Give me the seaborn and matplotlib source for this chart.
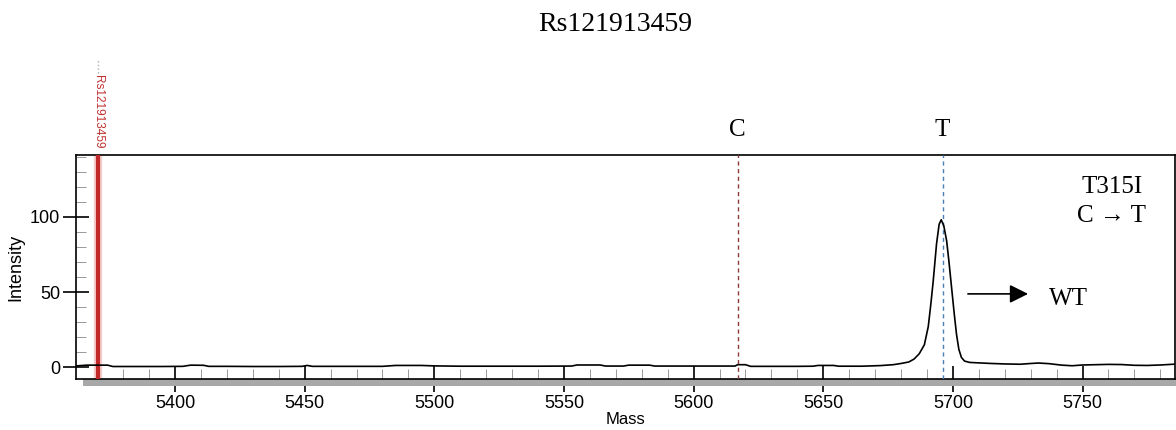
import numpy as np
import pandas as pd
import matplotlib
matplotlib.use("Agg")
import matplotlib.pyplot as plt
import matplotlib.transforms as mtransforms
from matplotlib.patches import Rectangle
from matplotlib.ticker import MultipleLocator
import seaborn as sns

# spectrum (mass, intensity)
mass = [5362, 5366, 5370, 5374, 5376, 5385, 5395, 5403, 5406, 5411, 5413, 5420, 5430,
        5440, 5449, 5451, 5453, 5460, 5470, 5480, 5485, 5495, 5500, 5510, 5520, 5530,
        5540, 5553, 5555, 5564, 5566, 5573, 5575, 5583, 5585, 5600, 5610, 5616, 5617,
        5620, 5622, 5630, 5640, 5646, 5648, 5654, 5656, 5665, 5672, 5677, 5680, 5683,
        5685, 5687, 5689, 5690.5, 5691.5, 5692.4, 5693.7, 5694.7, 5695.5, 5696.5,
        5697.6, 5698.5, 5699.5, 5700.5, 5701.4, 5702.3, 5703.3, 5704.5, 5706.5, 5710,
        5715, 5720, 5726, 5730, 5733, 5737, 5742, 5746, 5750, 5755, 5760, 5765, 5770,
        5775, 5780, 5786]
intensity = [1.0, 1.5, 1.5, 1.5, 0.6, 0.6, 0.6, 0.7, 1.5, 1.4, 0.7, 0.7, 0.6,
             0.6, 0.7, 1.3, 0.7, 0.7, 0.7, 0.7, 1.3, 1.3, 1.0, 0.8, 0.8, 0.8,
             0.8, 0.9, 1.6, 1.6, 0.9, 0.9, 1.5, 1.5, 0.9, 0.9, 0.9, 0.9, 1.8,
             1.8, 0.7, 0.7, 0.7, 0.8, 1.3, 1.3, 0.8, 0.8, 1.2, 1.8, 2.6, 3.6,
             5.5, 9, 15, 27, 42, 57, 82, 95, 98, 94,
             84, 70, 53, 36, 22, 12, 6.6, 4.2, 3.3, 3.0,
             2.6, 2.3, 2.1, 2.6, 2.9, 2.5, 1.5, 1.1, 1.6, 1.8, 2.0, 1.9, 1.4,
             1.3, 1.6, 2.2]

snp_name = "Rs121913459"
snp_mass = 5370.3
allele_labels = ["C", "T"]
allele_mass = [5617, 5696]
allele_colors = ["#8a3a3a", "#4a7fb5"]
x_ticks = [5400, 5450, 5500, 5550, 5600, 5650, 5700, 5750]
y_ticks = [0, 50, 100]

df = pd.DataFrame({"Mass": mass, "Intensity": intensity})

sns.set_style("ticks")
plt.rcParams["font.family"] = ["Liberation Sans", "DejaVu Sans"]
plt.rcParams["text.color"] = "black"
plt.rcParams["axes.labelcolor"] = "black"
plt.rcParams["xtick.color"] = "black"
plt.rcParams["ytick.color"] = "black"
serif = ["Liberation Serif", "DejaVu Serif"]

fig = plt.figure(figsize=(11.76, 4.30), dpi=100)
ax = fig.add_axes([0.0646, 0.1186, 0.9344, 0.5209])

sns.lineplot(data=df, x="Mass", y="Intensity", color="black", lw=1.2,
             estimator=None, sort=False, ax=ax, zorder=4)

ax.set_xlim(5361.8, 5785.6)
ax.set_ylim(-7.7, 141)

# marker line for the SNP
ax.axvline(snp_mass, color="#f6cccc", lw=6, zorder=2)
ax.axvline(snp_mass, color="#c0282a", lw=3, zorder=3)
ax.annotate(snp_name, xy=(snp_mass, 1), xycoords=("data", "axes fraction"),
            xytext=(0, 5), textcoords="offset points", rotation=270,
            ha="center", va="bottom", fontsize=8.5, color="#c03030")
trans = mtransforms.blended_transform_factory(ax.transData, ax.transAxes)
ax.plot([snp_mass, snp_mass], [1.366, 1.43], ls=":", color="#b0b0b0", lw=1,
        transform=trans, clip_on=False)

# allele lines
for lab, m, c in zip(allele_labels, allele_mass, allele_colors):
    ax.axvline(m, color=c, lw=1, ls=(0, (3, 2.5)), zorder=3)
    ax.text(m, 1.11, lab, transform=trans, ha="center", va="center",
            fontsize=18, family=serif)

ax.text(5761.3, 120, "T315I", ha="center", va="center", fontsize=18, family=serif)
ax.text(5761.3, 100.5, "C \u2192 T", ha="center", va="center", fontsize=18, family=serif)
ax.annotate("", xy=(5729, 48.8), xytext=(5705.8, 48.8),
            arrowprops=dict(arrowstyle="-|>", color="black", lw=1.2,
                            mutation_scale=28, shrinkA=0, shrinkB=0))
ax.text(5744.7, 45.5, "WT", ha="center", va="center", fontsize=18, family=serif)

# grey strip under the mass axis
ax.add_patch(Rectangle((0.0064, -0.031), 1.0, 0.031, transform=ax.transAxes,
                       color="#a8a8a8", clip_on=False, zorder=1, lw=0))

ax.set_xticks(x_ticks)
ax.set_yticks(y_ticks)
ax.xaxis.set_minor_locator(MultipleLocator(10))
ax.yaxis.set_minor_locator(MultipleLocator(10))
ax.tick_params(axis="both", which="major", direction="inout", length=19,
               width=1.2, color="black", labelsize=13, pad=2)
ax.tick_params(axis="both", which="minor", direction="in", length=7,
               width=0.7, color="#999999")
for s in ax.spines.values():
    s.set_color("black")
    s.set_linewidth(1.2)

ax.set_xlabel("Mass", fontsize=12, labelpad=0)
ax.set_ylabel("Intensity", fontsize=13, labelpad=4)

fig.text(0.523, 0.942, snp_name, ha="center", va="center", fontsize=20, family=serif)

fig.savefig("out.png", dpi=100)
